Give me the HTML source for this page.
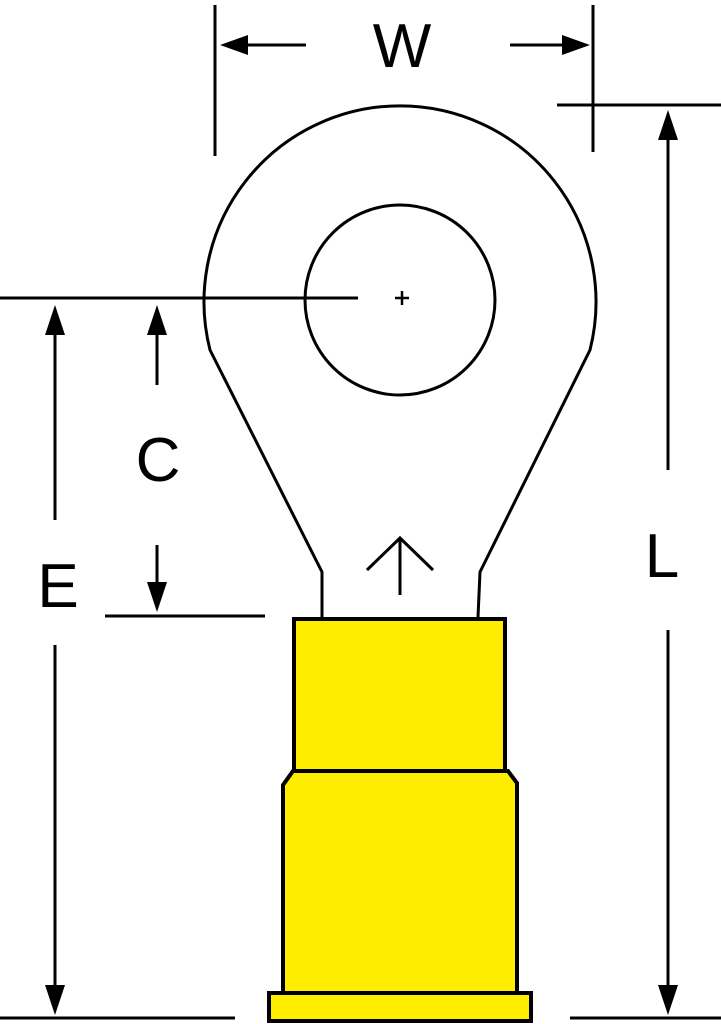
<!DOCTYPE html>
<html><head><style>html,body{margin:0;padding:0;background:#fff}svg{display:block}</style></head>
<body>
<svg width="721" height="1024" viewBox="0 0 721 1024" xmlns="http://www.w3.org/2000/svg">
<g stroke="#000" stroke-width="3" fill="none">
<line x1="215" y1="5" x2="215" y2="156"/>
<line x1="593" y1="5" x2="593" y2="152"/>
<line x1="225" y1="45" x2="306" y2="45"/>
<line x1="510" y1="45" x2="585" y2="45"/>
<path d="M322,617 L322,572 L210,350 A196,196 0 1 1 590,350 L480,572 L478,617"/>
<circle cx="400" cy="300" r="95"/>
<line x1="395" y1="298" x2="409" y2="298" stroke-width="2.5"/>
<line x1="402" y1="291" x2="402" y2="305" stroke-width="2.5"/>
<line x1="0" y1="298" x2="358" y2="298"/>
<line x1="55" y1="315" x2="55" y2="520"/>
<line x1="55" y1="645" x2="55" y2="1005"/>
<line x1="157" y1="315" x2="157" y2="385"/>
<line x1="157" y1="545" x2="157" y2="602"/>
<line x1="105" y1="616" x2="265" y2="616"/>
<line x1="557" y1="105" x2="721" y2="105"/>
<line x1="668" y1="120" x2="668" y2="470"/>
<line x1="668" y1="630" x2="668" y2="1005"/>
<line x1="0" y1="1018" x2="235" y2="1018"/>
<line x1="570" y1="1018" x2="721" y2="1018"/>
<line x1="400" y1="540" x2="400" y2="595"/>
<polyline points="367,570 400,538 433,570"/>
</g>
<g fill="#000">
<polygon points="220,45 248,35 248,55"/>
<polygon points="590,45 562,35 562,55"/>
<polygon points="55,305 45,335 65,335"/>
<polygon points="55,1015 45,985 65,985"/>
<polygon points="157,305 147,335 167,335"/>
<polygon points="157,612 147,582 167,582"/>
<polygon points="668,110 658,140 678,140"/>
<polygon points="668,1015 658,985 678,985"/>
</g>
<g fill="#ffed00" stroke="#000" stroke-width="4">
<rect x="294" y="619" width="211" height="153"/>
<path d="M293,771 L508,771 L517,783 L517,993 L283,993 L283,785 Z"/>
<rect x="269" y="993" width="262" height="28"/>
</g>
<g font-family="Liberation Sans, sans-serif" font-size="62" text-anchor="middle" fill="#000">
<text x="402" y="67">W</text>
<text x="158" y="481">C</text>
<text x="58" y="607">E</text>
<text x="662" y="577">L</text>
</g>
</svg>
</body></html>
